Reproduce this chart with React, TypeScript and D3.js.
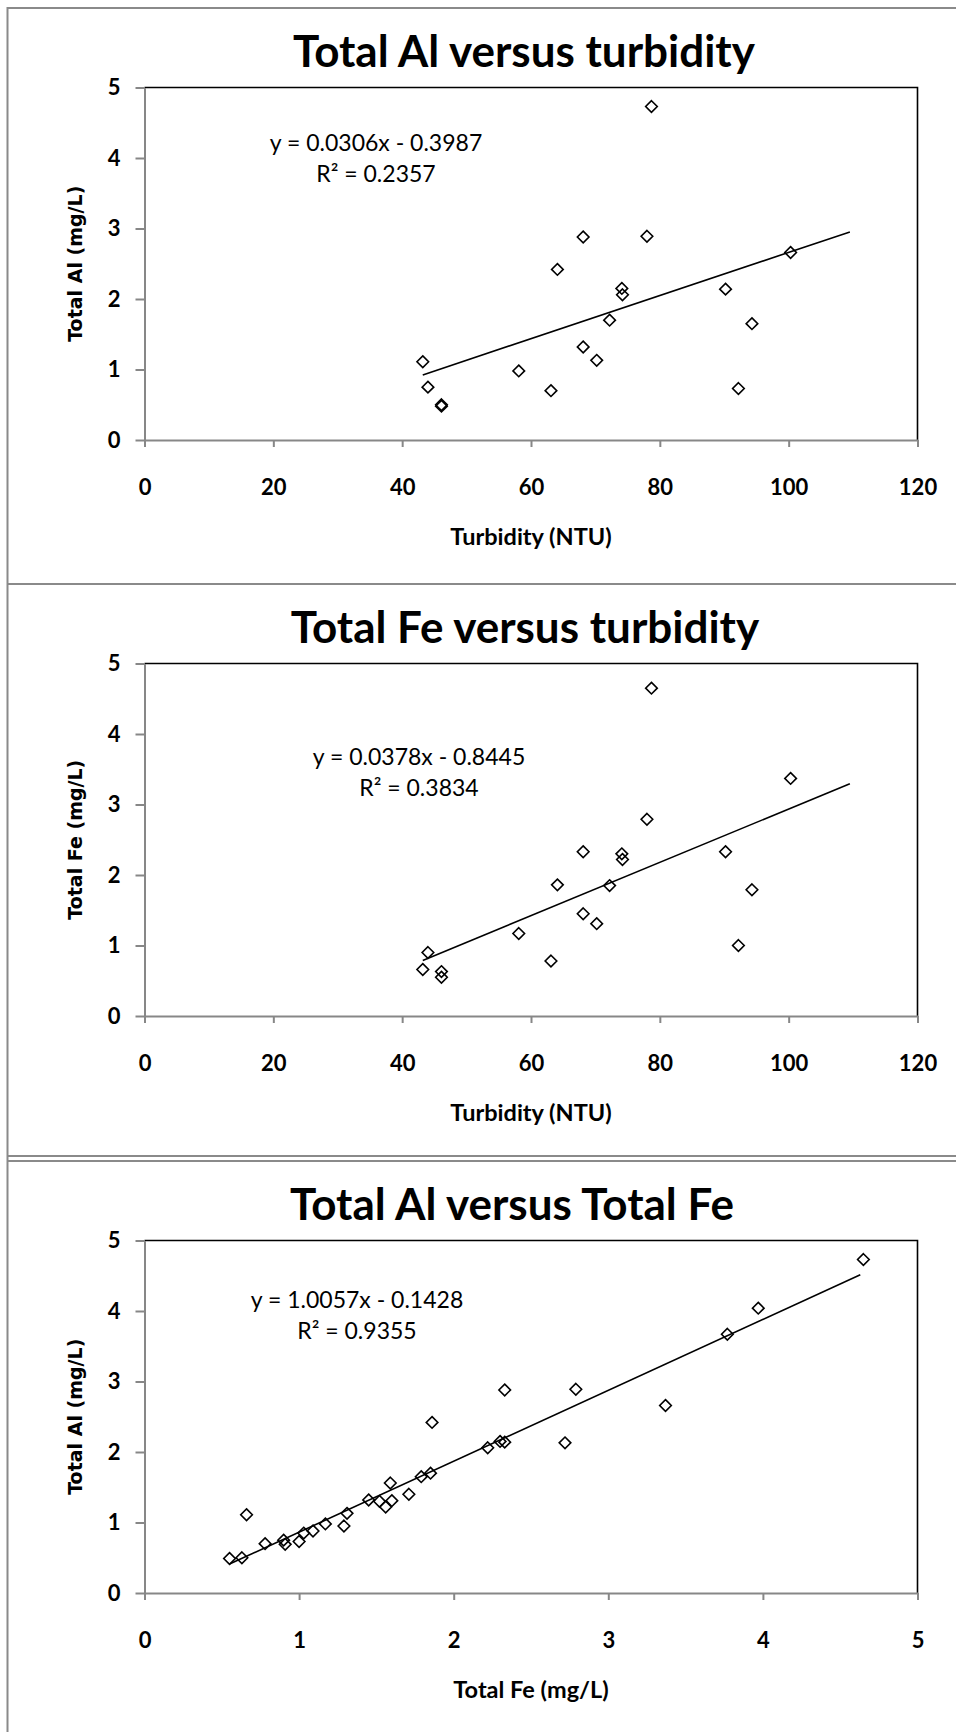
import * as d3 from "d3";
import { useEffect, useRef } from "react";

// turbidity samples (NTU) with their metal readings (mg/L)
const turbidity = [43.2, 44.0, 46.1, 46.1, 58.1, 63.1, 64.1, 68.1, 68.1, 70.2, 72.2, 74.1, 74.2, 78.0, 78.7, 90.2, 92.2, 94.3, 100.3];
const alByTurbidity = [1.11, 0.75, 0.5, 0.48, 0.98, 0.7, 2.42, 2.88, 1.32, 1.13, 1.7, 2.15, 2.06, 2.89, 4.73, 2.14, 0.73, 1.65, 2.66];
const feByTurbidity = [0.66, 0.9, 0.63, 0.55, 1.17, 0.78, 1.86, 2.33, 1.45, 1.31, 1.85, 2.3, 2.22, 2.79, 4.65, 2.33, 1.0, 1.79, 3.37];

// all Fe / Al pairs
const feAll = [0.55, 0.63, 0.66, 0.78, 0.9, 0.91, 1.0, 1.03, 1.09, 1.17, 1.29, 1.31, 1.45, 1.52, 1.56, 1.59, 1.6, 1.71, 1.79, 1.85, 1.86, 2.22, 2.3, 2.33, 2.33, 2.72, 2.79, 3.37, 3.77, 3.97, 4.65];
const alAll = [0.49, 0.5, 1.11, 0.7, 0.75, 0.69, 0.73, 0.85, 0.88, 0.98, 0.95, 1.13, 1.32, 1.3, 1.22, 1.56, 1.31, 1.4, 1.65, 1.7, 2.42, 2.06, 2.15, 2.88, 2.14, 2.13, 2.89, 2.66, 3.67, 4.04, 4.73];

const turbidityTicks = [0, 20, 40, 60, 80, 100, 120];
const feTicks = [0, 1, 2, 3, 4, 5];
const metalTicks = [0, 1, 2, 3, 4, 5];

const titles = ["Total Al versus turbidity", "Total Fe versus turbidity", "Total Al versus Total Fe"];
const xTitles = ["Turbidity (NTU)", "Turbidity (NTU)", "Total Fe (mg/L)"];
const yTitles = ["Total Al (mg/L)", "Total Fe (mg/L)", "Total Al (mg/L)"];

// linear trendlines as printed on the charts
const slopes = [0.0306, 0.0378, 1.0057];
const intercepts = [-0.3987, -0.8445, -0.1428];
const rSquared = [0.2357, 0.3834, 0.9355];
const trendStarts = [43.2, 43.2, 0.55];
const trendEnds = [109.5, 109.5, 4.63];

const WIDTH = 956;
const HEIGHT = 1732;
const CALIBRI = "Lato, 'Open Sans', sans-serif";
const VERDANA = "'DejaVu Sans', Verdana, sans-serif";

export default function App() {
  const ref = useRef<SVGSVGElement>(null);

  useEffect(() => {
    if (!ref.current) return;
    const svg = d3.select(ref.current);
    svg.selectAll("*").remove();

    svg.append("rect").attr("width", WIDTH).attr("height", HEIGHT).attr("fill", "#fff");

    const panels = [
      { top: 8, xs: turbidity, ys: alByTurbidity, xDomain: [0, 120], xTicks: turbidityTicks, titleX: 524, eqX: 376, eqDy: 63 },
      { top: 584, xs: turbidity, ys: feByTurbidity, xDomain: [0, 120], xTicks: turbidityTicks, titleX: 525, eqX: 419, eqDy: 101 },
      { top: 1161, xs: feAll, ys: alAll, xDomain: [0, 5], xTicks: feTicks, titleX: 512, eqX: 357, eqDy: 67 },
    ];

    // panel frames (they run off the right and bottom edge)
    svg
      .append("path")
      .attr(
        "d",
        `M7.5,${HEIGHT} V8 H${WIDTH}` + panels.slice(1).map((p) => ` M7.5,${p.top} H${WIDTH}`).join("") + ` M7.5,1156 H${WIDTH}`
      )
      .attr("fill", "none")
      .attr("stroke", "#8a8a8a")
      .attr("stroke-width", 2);

    const x0 = 144.5;
    const x1 = 917.5;
    const plotH = 352.5;

    panels.forEach((p, i) => {
      const plotTop = p.top + 79.5;
      const plotBottom = plotTop + plotH;
      const x = d3.scaleLinear().domain(p.xDomain).range([x0, x1]);
      const y = d3.scaleLinear().domain([0, 5]).range([plotBottom, plotTop]);
      const g = svg.append("g");

      g.append("text")
        .attr("x", p.titleX)
        .attr("y", plotTop - 21)
        .attr("text-anchor", "middle")
        .attr("font-family", CALIBRI)
        .attr("font-weight", 700)
        .attr("font-size", 44)
        .attr("fill", "#000")
        .text(titles[i]);

      // plot area border: black top and right
      g.append("path")
        .attr("d", `M${x0},${plotTop} H${x1} V${plotBottom}`)
        .attr("fill", "none")
        .attr("stroke", "#000")
        .attr("stroke-width", 1.6);

      g.append("g")
        .attr("transform", `translate(${x0},0)`)
        .call(d3.axisLeft(y).tickValues(metalTicks).tickSize(9).tickPadding(15).tickSizeOuter(0).tickFormat(d3.format("d")))
        .call((a) => a.select(".domain").attr("stroke", "#878787").attr("stroke-width", 2))
        .call((a) => a.selectAll("line").attr("stroke", "#878787").attr("stroke-width", 2))
        .call((a) =>
          a
            .selectAll("text")
            .attr("font-family", CALIBRI)
            .attr("font-weight", 700)
            .attr("font-size", 22)
            .attr("fill", "#000")
        );

      g.append("g")
        .attr("transform", `translate(0,${plotBottom})`)
        .call(d3.axisBottom(x).tickValues(p.xTicks).tickSize(7).tickPadding(32).tickSizeOuter(0).tickFormat(d3.format("d")))
        .call((a) => a.select(".domain").attr("stroke", "#878787").attr("stroke-width", 2))
        .call((a) => a.selectAll("line").attr("stroke", "#878787").attr("stroke-width", 2))
        .call((a) =>
          a
            .selectAll("text")
            .attr("font-family", CALIBRI)
            .attr("font-weight", 700)
            .attr("font-size", 22)
            .attr("fill", "#000")
        );

      g.append("text")
        .attr("x", 531)
        .attr("y", plotBottom + 105)
        .attr("text-anchor", "middle")
        .attr("font-family", CALIBRI)
        .attr("font-weight", 700)
        .attr("font-size", 23.5)
        .attr("fill", "#000")
        .text(xTitles[i]);

      g.append("text")
        .attr("transform", `translate(82,${(plotTop + plotBottom) / 2}) rotate(-90)`)
        .attr("text-anchor", "middle")
        .attr("font-family", VERDANA)
        .attr("font-weight", 700)
        .attr("font-size", 19)
        .attr("fill", "#000")
        .text(yTitles[i]);

      // trendline
      const line = d3
        .line<number>()
        .x((v) => x(v))
        .y((v) => y(slopes[i] * v + intercepts[i]));
      g.append("path")
        .datum([trendStarts[i], trendEnds[i]])
        .attr("d", line)
        .attr("fill", "none")
        .attr("stroke", "#000")
        .attr("stroke-width", 1.6);

      // markers
      const diamond = d3.symbol().type(d3.symbolDiamond2).size(86);
      g.append("g")
        .selectAll("path")
        .data(p.xs.map((v, k) => [v, p.ys[k]]))
        .join("path")
        .attr("transform", (d) => `translate(${x(d[0])},${y(d[1])})`)
        .attr("d", diamond)
        .attr("fill", "none")
        .attr("stroke", "#000")
        .attr("stroke-width", 1.6);

      const eq = g
        .append("text")
        .attr("text-anchor", "middle")
        .attr("font-family", CALIBRI)
        .attr("font-size", 23)
        .attr("fill", "#000");
      eq.append("tspan")
        .attr("x", p.eqX)
        .attr("y", plotTop + p.eqDy)
        .text(`y = ${slopes[i].toFixed(4)}x - ${Math.abs(intercepts[i]).toFixed(4)}`);
      eq.append("tspan")
        .attr("x", p.eqX)
        .attr("y", plotTop + p.eqDy + 31.7)
        .text(`R² = ${rSquared[i].toFixed(4)}`);
    });
  }, []);

  return (
    <svg
      ref={ref}
      width={WIDTH}
      height={HEIGHT}
      style={{ position: "absolute", left: 0, top: 0, display: "block" }}
      role="img"
      aria-label="Total Al and Fe versus turbidity"
    />
  );
}
